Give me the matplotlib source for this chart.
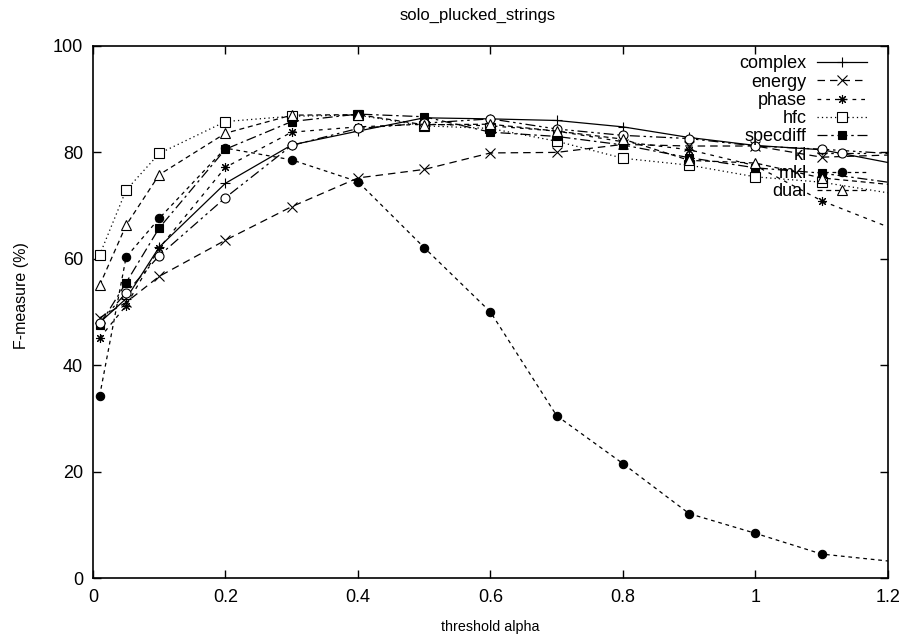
import matplotlib
matplotlib.use("Agg")
import matplotlib.pyplot as plt

# ── Data ─────────────────────────────────────────────────────
alpha = [0.01, 0.05, 0.1, 0.2, 0.3, 0.4, 0.5, 0.6, 0.7, 0.8, 0.9, 1.0, 1.1, 1.2]

complex_f  = [48.0, 52.5, 62.2, 74.2, 81.4, 84.0, 86.5, 86.3, 86.0, 84.8, 82.8, 81.3, 80.5, 78.1]
energy_f   = [48.9, 51.8, 56.7, 63.5, 69.8, 75.2, 76.8, 79.9, 80.0, 81.5, 81.2, 81.2, 79.1, 79.5]
phase_f    = [45.1, 51.2, 62.0, 77.2, 83.8, 84.8, 85.3, 85.0, 84.0, 82.0, 80.5, 77.5, 70.9, 66.0]
hfc_f      = [60.7, 72.9, 79.8, 85.8, 86.8, 87.0, 85.0, 84.5, 82.1, 78.9, 77.6, 75.4, 74.4, 72.4]
specdiff_f = [47.5, 55.5, 65.8, 80.6, 85.8, 87.2, 86.7, 83.8, 83.0, 81.4, 79.0, 77.1, 76.1, 74.4]
kl_f       = [48.0, 53.6, 60.6, 71.5, 81.3, 84.5, 85.5, 86.3, 84.4, 83.2, 82.6, 81.2, 80.6, 79.8]
mkl_f      = [34.2, 60.3, 67.6, 80.8, 78.6, 74.5, 62.1, 50.0, 30.5, 21.5, 12.1, 8.4, 4.5, 3.2]
dual_f     = [55.0, 66.3, 75.8, 83.6, 87.0, 87.1, 85.2, 85.3, 84.0, 82.5, 78.5, 78.0, 75.2, 74.0]

names = ["complex", "energy", "phase", "hfc", "specdiff", "kl", "mkl", "dual"]
series = [complex_f, energy_f, phase_f, hfc_f, specdiff_f, kl_f, mkl_f, dual_f]

# gnuplot-ish styles: (linestyle, marker, filled)
STAR = (8, 2, 0)   # + and x combined
styles = [
    ("-",                          "+",  False),
    ((0, (6, 4)),                  "x",  False),
    ((0, (3, 4)),                  STAR, False),
    ((0, (1, 2.5)),                "s",  False),
    ((0, (8, 3, 2, 3)),            "s",  True),
    ((0, (8, 3, 2, 3, 2, 3)),      "o",  False),
    ((0, (3, 3)),                  "o",  True),
    ((0, (4, 3)),                  "^",  False),
]

plt.rcParams.update({
    "font.family": ["Liberation Sans", "DejaVu Sans"],
    "font.size": 10,
})

fig = plt.figure(figsize=(9.07, 6.37), dpi=100)
ax = fig.add_axes([0.1025, 0.0926, 0.8765, 0.8352])

for name, vals, (ls, mk, filled) in zip(names, series, styles):
    ax.plot(alpha, vals, color="black", linestyle=ls, linewidth=0.9,
            marker=mk, markersize=6 if filled else 6.5,
            markerfacecolor="black" if filled else "white",
            markeredgecolor="black", markeredgewidth=0.8,
            markevery=list(range(len(alpha) - 1)), label=name)

ax.set_xlim(0, 1.2)
ax.set_ylim(0, 100)
ax.set_xticks([0, 0.2, 0.4, 0.6, 0.8, 1.0, 1.2])
ax.set_xticklabels(["0", "0.2", "0.4", "0.6", "0.8", "1", "1.2"])
ax.set_yticks([0, 20, 40, 60, 80, 100])
ax.tick_params(direction="in", length=6, width=1, top=True, right=True,
               labelsize=13)
ax.tick_params(axis="x", pad=8)
ax.tick_params(axis="y", pad=7)
for sp in ax.spines.values():
    sp.set_linewidth(1.2)

ax.set_title("solo_plucked_strings", fontsize=12, pad=19, x=0.484)
ax.set_xlabel("threshold alpha", fontsize=10.3)
ax.set_ylabel("F-measure (%)", fontsize=11.5)
ax.xaxis.set_label_coords(0.5, -0.079)
ax.yaxis.set_label_coords(-0.081, 0.53)

ax.legend(loc="upper right", bbox_to_anchor=(0.989, 1.006), frameon=False,
          markerfirst=False, handlelength=2.77, handletextpad=0.55,
          labelspacing=0.07, borderpad=0.2, fontsize=13)

fig.savefig("out.png", dpi=100)
